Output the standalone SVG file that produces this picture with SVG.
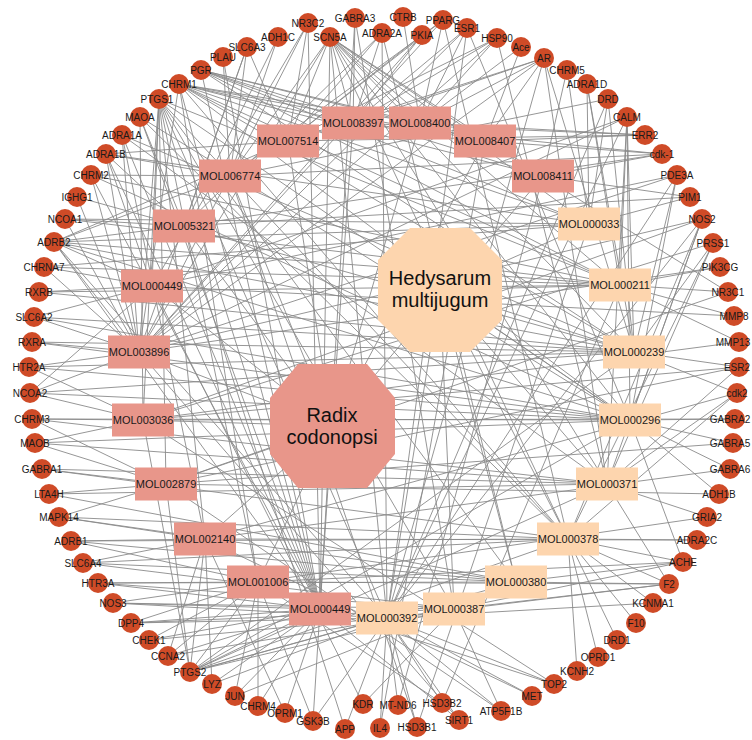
<svg xmlns="http://www.w3.org/2000/svg" width="752" height="740" viewBox="0 0 752 740">
<style>
.e{stroke:#8a8a8a;stroke-width:0.9;fill:none}
.t{fill:#cf4b27}
.tl{font-family:"Liberation Sans",Arial,sans-serif;font-size:10px;fill:#1a1a1a;text-anchor:middle}
.pk{fill:#e8968a}
.pc{fill:#fdd5ae}
.ml{font-family:"Liberation Sans",Arial,sans-serif;font-size:11px;fill:#1a1a1a;text-anchor:middle}
.hl{font-family:"Liberation Sans",Arial,sans-serif;font-size:20px;fill:#111;text-anchor:middle}
</style>
<rect width="752" height="740" fill="#fff"/>
<g id="edges" class="e">
<!-- herb to compound -->
<path d="M332 426L353 123M332 426L420 123M332 426L288 141M332 426L230 176M332 426L184 226M332 426L152 286M332 426L139 352M332 426L143 420M332 426L166 484M332 426L205 539M332 426L258 582M332 426L320 609M332 426L485 141M332 426L543 176"/>
<path d="M440 290L589 224M440 290L620 285M440 290L634 352M440 290L630 420M440 290L607 484M440 290L568 539M440 290L516 582M440 290L454 609M440 290L387 618"/>
<!-- compound to target -->
<path d="M54 242L184 226M54 242L152 286M54 242L139 352M54 242L230 176M54 242L288 141M54 242L320 609M54 242L589 224M54 242L620 285M54 242L387 618M54 242L634 352M54 242L630 420"/>
<path d="M65 219L184 226M65 219L589 224M65 219L139 352M65 219L620 285"/>
<path d="M77 197L139 352M77 197L634 352"/>
<path d="M91 175L230 176M91 175L139 352M91 175L320 609M91 175L620 285M91 175L630 420"/>
<path d="M106 154L230 176M106 154L184 226M106 154L152 286M106 154L139 352M106 154L288 141M106 154L320 609M106 154L589 224"/>
<path d="M122 135L139 352M122 135L205 539M122 135L634 352M122 135L320 609M122 135L607 484"/>
<path d="M140 117L184 226M140 117L143 420M140 117L630 420M140 117L320 609M140 117L568 539"/>
<path d="M159 99L152 286M159 99L139 352M159 99L143 420M159 99L166 484M159 99L205 539M159 99L258 582M159 99L320 609M159 99L387 618M159 99L454 609M159 99L516 582M159 99L568 539M159 99L630 420M159 99L620 285"/>
<path d="M179 84L353 123M179 84L420 123M179 84L288 141M179 84L485 141M179 84L543 176M179 84L589 224M179 84L620 285M179 84L634 352M179 84L139 352M179 84L320 609M179 84L630 420M179 84L568 539M179 84L258 582"/>
<path d="M201 70L353 123M201 70L420 123M201 70L485 141M201 70L543 176M201 70L589 224M201 70L320 609M201 70L620 285M201 70L634 352"/>
<path d="M223 57L230 176M223 57L320 609"/>
<path d="M247 47L230 176M247 47L184 226M247 47L288 141M247 47L139 352"/>
<path d="M278 37L230 176M278 37L184 226"/>
<path d="M308 23L288 141M308 23L139 352M308 23L152 286M308 23L320 609"/>
<path d="M330 37L353 123M330 37L420 123M330 37L288 141M330 37L485 141M330 37L543 176M330 37L589 224M330 37L620 285M330 37L634 352M330 37L230 176M330 37L139 352M330 37L320 609M330 37L387 618M330 37L630 420M330 37L607 484M330 37L568 539"/>
<path d="M355 18L353 123M355 18L320 609M355 18L454 609"/>
<path d="M382 33L353 123M382 33L288 141M382 33L184 226M382 33L387 618M382 33L516 582"/>
<path d="M403 17L420 123"/>
<path d="M422 35L353 123M422 35L288 141M422 35L139 352"/>
<path d="M443 20L420 123M443 20L288 141M443 20L230 176M443 20L139 352M443 20L568 539"/>
<path d="M467 28L353 123M467 28L420 123M467 28L139 352M467 28L387 618M467 28L630 420"/>
<path d="M497 38L420 123M497 38L288 141M497 38L353 123M497 38L139 352M497 38L607 484"/>
<path d="M521 47L485 141M521 47L420 123"/>
<path d="M544 58L420 123M544 58L485 141M544 58L353 123M544 58L288 141M544 58L139 352M544 58L387 618M544 58L634 352M544 58L607 484"/>
<path d="M567 70L543 176M567 70L589 224"/>
<path d="M587 84L589 224M587 84L620 285M587 84L634 352"/>
<path d="M608 99L589 224M608 99L634 352M608 99L387 618M608 99L230 176"/>
<path d="M627 117L620 285M627 117L634 352M627 117L630 420M627 117L607 484M627 117L387 618M627 117L152 286M627 117L139 352"/>
<path d="M645 135L485 141M645 135L420 123M645 135L353 123M645 135L288 141"/>
<path d="M662 154L543 176M662 154L485 141M662 154L353 123M662 154L230 176M662 154L184 226"/>
<path d="M677 175L634 352M677 175L630 420M677 175L387 618M677 175L139 352M677 175L152 286"/>
<path d="M690 197L589 224M690 197L543 176M690 197L184 226"/>
<path d="M702 219L630 420M702 219L607 484M702 219L568 539M702 219L387 618M702 219L139 352M702 219L143 420"/>
<path d="M713 243L634 352M713 243L607 484M713 243L568 539M713 243L143 420"/>
<path d="M720 267L620 285M720 267L139 352"/>
<path d="M728 292L620 285M728 292L485 141M728 292L166 484"/>
<path d="M734 316L620 285M734 316L152 286"/>
<path d="M739 342L620 285M739 342L143 420"/>
<path d="M739 367L634 352M739 367L607 484M739 367L143 420M739 367L166 484"/>
<path d="M737 393L634 352M737 393L607 484M737 393L568 539M737 393L205 539"/>
<path d="M735 419L630 420M735 419L143 420"/>
<path d="M733 443L630 420M733 443L166 484"/>
<path d="M730 469L630 420M730 469L205 539"/>
<path d="M719 494L630 420M719 494L166 484"/>
<path d="M707 517L607 484M707 517L258 582"/>
<path d="M697 540L568 539M697 540L205 539"/>
<path d="M683 562L516 582M683 562L454 609M683 562L630 420M683 562L568 539M683 562L258 582"/>
<path d="M669 584L516 582M669 584L454 609M669 584L568 539M669 584L607 484M669 584L387 618M669 584L258 582"/>
<path d="M653 603L568 539M653 603L387 618"/>
<path d="M636 623L568 539M617 640L568 539M598 657L568 539M577 671L568 539"/>
<path d="M554 684L387 618M554 684L320 609M554 684L143 420"/>
<path d="M532 696L387 618M532 696L205 539"/>
<path d="M501 711L387 618M501 711L454 609M501 711L166 484"/>
<path d="M459 720L387 618M459 720L320 609M459 720L139 352"/>
<path d="M442 703L387 618M442 703L258 582M442 703L620 285"/>
<path d="M417 727L387 618M417 727L589 224M417 727L230 176"/>
<path d="M398 705L387 618M398 705L543 176"/>
<path d="M380 728L387 618M380 728L485 141"/>
<path d="M363 704L454 609M363 704L152 286"/>
<path d="M345 729L387 618M345 729L184 226"/>
<path d="M313 721L258 582M313 721L320 609M313 721L387 618"/>
<path d="M285 713L320 609M285 713L205 539"/>
<path d="M258 706L320 609M258 706L258 582"/>
<path d="M235 696L258 582M235 696L320 609M235 696L454 609"/>
<path d="M212 684L205 539M212 684L387 618M212 684L320 609"/>
<path d="M190 672L166 484M190 672L205 539M190 672L258 582M190 672L320 609M190 672L387 618M190 672L454 609M190 672L516 582M190 672L568 539M190 672L607 484M190 672L630 420M190 672L634 352M190 672L143 420"/>
<path d="M168 656L205 539M168 656L258 582M168 656L454 609M168 656L320 609"/>
<path d="M149 640L258 582M149 640L387 618M149 640L320 609"/>
<path d="M131 623L258 582M131 623L454 609M131 623L387 618M131 623L320 609"/>
<path d="M113 603L258 582M113 603L320 609M113 603L387 618M113 603L454 609"/>
<path d="M98 583L258 582M98 583L516 582M98 583L454 609M98 583L320 609"/>
<path d="M83 563L205 539M83 563L568 539M83 563L516 582M83 563L454 609"/>
<path d="M71 541L205 539M71 541L568 539M71 541L258 582M71 541L516 582"/>
<path d="M59 517L205 539M59 517L166 484M59 517L568 539M59 517L516 582"/>
<path d="M49 494L166 484M49 494L607 484M49 494L516 582"/>
<path d="M42 469L166 484M42 469L607 484M42 469L568 539"/>
<path d="M35 443L143 420M35 443L166 484M35 443L607 484M35 443L630 420"/>
<path d="M32 419L143 420M32 419L630 420M32 419L607 484M32 419L166 484"/>
<path d="M30 393L139 352M30 393L143 420M30 393L634 352M30 393L630 420M30 393L152 286"/>
<path d="M29 367L139 352M29 367L634 352M29 367L630 420M29 367L143 420"/>
<path d="M32 342L139 352M32 342L634 352M32 342L630 420"/>
<path d="M34 317L139 352M34 317L152 286M34 317L634 352M34 317L630 420"/>
<path d="M39 292L152 286M39 292L620 285M39 292L634 352"/>
<path d="M44 267L152 286M44 267L139 352M44 267L620 285M44 267L589 224"/>
</g>

<!-- Radix codonopsi compounds -->
<g id="MOL008397"><rect class="pk" x="322" y="106.5" width="62" height="33"/><text class="ml" x="353" y="127">MOL008397</text></g>
<g id="MOL008400"><rect class="pk" x="389" y="106.5" width="62" height="33"/><text class="ml" x="420" y="127">MOL008400</text></g>
<g id="MOL007514"><rect class="pk" x="257" y="124.5" width="62" height="33"/><text class="ml" x="288" y="145">MOL007514</text></g>
<g id="MOL006774"><rect class="pk" x="199" y="159.5" width="62" height="33"/><text class="ml" x="230" y="180">MOL006774</text></g>
<g id="MOL005321"><rect class="pk" x="153" y="209.5" width="62" height="33"/><text class="ml" x="184" y="230">MOL005321</text></g>
<g id="MOL000449-a"><rect class="pk" x="121" y="269.5" width="62" height="33"/><text class="ml" x="152" y="290">MOL000449</text></g>
<g id="MOL003896"><rect class="pk" x="108" y="335.5" width="62" height="33"/><text class="ml" x="139" y="356">MOL003896</text></g>
<g id="MOL003036"><rect class="pk" x="112" y="403.5" width="62" height="33"/><text class="ml" x="143" y="424">MOL003036</text></g>
<g id="MOL002879"><rect class="pk" x="135" y="467.5" width="62" height="33"/><text class="ml" x="166" y="488">MOL002879</text></g>
<g id="MOL002140"><rect class="pk" x="174" y="522.5" width="62" height="33"/><text class="ml" x="205" y="543">MOL002140</text></g>
<g id="MOL001006"><rect class="pk" x="227" y="565.5" width="62" height="33"/><text class="ml" x="258" y="586">MOL001006</text></g>
<g id="MOL000449-b"><rect class="pk" x="289" y="592.5" width="62" height="33"/><text class="ml" x="320" y="613">MOL000449</text></g>
<g id="MOL008407"><rect class="pk" x="454" y="124.5" width="62" height="33"/><text class="ml" x="485" y="145">MOL008407</text></g>
<g id="MOL008411"><rect class="pk" x="512" y="159.5" width="62" height="33"/><text class="ml" x="543" y="180">MOL008411</text></g>

<!-- Hedysarum multijugum compounds -->
<g id="MOL000033"><rect class="pc" x="558" y="207.5" width="62" height="33"/><text class="ml" x="589" y="228">MOL000033</text></g>
<g id="MOL000211"><rect class="pc" x="589" y="268.5" width="62" height="33"/><text class="ml" x="620" y="289">MOL000211</text></g>
<g id="MOL000239"><rect class="pc" x="603" y="335.5" width="62" height="33"/><text class="ml" x="634" y="356">MOL000239</text></g>
<g id="MOL000296"><rect class="pc" x="599" y="403.5" width="62" height="33"/><text class="ml" x="630" y="424">MOL000296</text></g>
<g id="MOL000371"><rect class="pc" x="576" y="467.5" width="62" height="33"/><text class="ml" x="607" y="488">MOL000371</text></g>
<g id="MOL000378"><rect class="pc" x="537" y="522.5" width="62" height="33"/><text class="ml" x="568" y="543">MOL000378</text></g>
<g id="MOL000380"><rect class="pc" x="485" y="565.5" width="62" height="33"/><text class="ml" x="516" y="586">MOL000380</text></g>
<g id="MOL000387"><rect class="pc" x="423" y="592.5" width="62" height="33"/><text class="ml" x="454" y="613">MOL000387</text></g>
<g id="MOL000392"><rect class="pc" x="356" y="601.5" width="62" height="33"/><text class="ml" x="387" y="622">MOL000392</text></g>

<!-- herbs -->
<g id="radix-codonopsi"><polygon class="pk" points="298,364 367,364 395,398 395,454 367,488 298,488 270,454 270,398"/><text class="hl" x="332" y="422">Radix</text><text class="hl" x="332" y="444">codonopsi</text></g>
<g id="hedysarum-multijugum"><polygon class="pc" points="410,228 470,228 502,260 502,320 470,352 410,352 378,320 378,260"/><text class="hl" x="440" y="285">Hedysarum</text><text class="hl" x="440" y="307">multijugum</text></g>

<!-- targets -->
<g id="ADRB2"><circle class="t" cx="54" cy="242" r="10"/><text class="tl" x="54" y="245.5">ADRB2</text></g>
<g id="NCOA1"><circle class="t" cx="65" cy="219" r="10"/><text class="tl" x="65" y="222.5">NCOA1</text></g>
<g id="IGHG1"><circle class="t" cx="77" cy="197" r="10"/><text class="tl" x="77" y="200.5">IGHG1</text></g>
<g id="CHRM2"><circle class="t" cx="91" cy="175" r="10"/><text class="tl" x="91" y="178.5">CHRM2</text></g>
<g id="ADRA1B"><circle class="t" cx="106" cy="154" r="10"/><text class="tl" x="106" y="157.5">ADRA1B</text></g>
<g id="ADRA1A"><circle class="t" cx="122" cy="135" r="10"/><text class="tl" x="122" y="138.5">ADRA1A</text></g>
<g id="MAOA"><circle class="t" cx="140" cy="117" r="10"/><text class="tl" x="140" y="120.5">MAOA</text></g>
<g id="PTGS1"><circle class="t" cx="159" cy="99" r="10"/><text class="tl" x="157" y="102.5">PTGS1</text></g>
<g id="CHRM1"><circle class="t" cx="179" cy="84" r="10"/><text class="tl" x="179" y="87.5">CHRM1</text></g>
<g id="PGR"><circle class="t" cx="201" cy="70" r="10"/><text class="tl" x="201" y="73.5">PGR</text></g>
<g id="PLAU"><circle class="t" cx="223" cy="57" r="10"/><text class="tl" x="223" y="60.5">PLAU</text></g>
<g id="SLC6A3"><circle class="t" cx="247" cy="47" r="10"/><text class="tl" x="247" y="50.5">SLC6A3</text></g>
<g id="ADH1C"><circle class="t" cx="278" cy="37" r="10"/><text class="tl" x="278" y="40.5">ADH1C</text></g>
<g id="NR3C2"><circle class="t" cx="308" cy="23" r="10"/><text class="tl" x="308" y="26.5">NR3C2</text></g>
<g id="SCN5A"><circle class="t" cx="330" cy="37" r="10"/><text class="tl" x="330" y="40.5">SCN5A</text></g>
<g id="GABRA3"><circle class="t" cx="355" cy="18" r="10"/><text class="tl" x="355" y="21.5">GABRA3</text></g>
<g id="ADRA2A"><circle class="t" cx="382" cy="33" r="10"/><text class="tl" x="382" y="36.5">ADRA2A</text></g>
<g id="CTRB"><circle class="t" cx="403" cy="17" r="10"/><text class="tl" x="403" y="20.5">CTRB</text></g>
<g id="PKIA"><circle class="t" cx="422" cy="35" r="10"/><text class="tl" x="422" y="38.5">PKIA</text></g>
<g id="PPARG"><circle class="t" cx="443" cy="20" r="10"/><text class="tl" x="443" y="23.5">PPARG</text></g>
<g id="ESR1"><circle class="t" cx="467" cy="28" r="10"/><text class="tl" x="467" y="31.5">ESR1</text></g>
<g id="HSP90"><circle class="t" cx="497" cy="38" r="10"/><text class="tl" x="497" y="41.5">HSP90</text></g>
<g id="Ace"><circle class="t" cx="521" cy="47" r="10"/><text class="tl" x="521" y="50.5">Ace</text></g>
<g id="AR"><circle class="t" cx="544" cy="58" r="10"/><text class="tl" x="544" y="61.5">AR</text></g>
<g id="CHRM5"><circle class="t" cx="567" cy="70" r="10"/><text class="tl" x="567" y="73.5">CHRM5</text></g>
<g id="ADRA1D"><circle class="t" cx="587" cy="84" r="10"/><text class="tl" x="587" y="87.5">ADRA1D</text></g>
<g id="DRD"><circle class="t" cx="608" cy="99" r="10"/><text class="tl" x="608" y="102.5">DRD</text></g>
<g id="CALM"><circle class="t" cx="627" cy="117" r="10"/><text class="tl" x="627" y="120.5">CALM</text></g>
<g id="ERR2"><circle class="t" cx="645" cy="135" r="10"/><text class="tl" x="645" y="138.5">ERR2</text></g>
<g id="cdk-1"><circle class="t" cx="662" cy="154" r="10"/><text class="tl" x="662" y="157.5">cdk-1</text></g>
<g id="PDE3A"><circle class="t" cx="677" cy="175" r="10"/><text class="tl" x="677" y="178.5">PDE3A</text></g>
<g id="PIM1"><circle class="t" cx="690" cy="197" r="10"/><text class="tl" x="690" y="200.5">PIM1</text></g>
<g id="NOS2"><circle class="t" cx="702" cy="219" r="10"/><text class="tl" x="702" y="222.5">NOS2</text></g>
<g id="PRSS1"><circle class="t" cx="713" cy="243" r="10"/><text class="tl" x="713" y="246.5">PRSS1</text></g>
<g id="PIK3CG"><circle class="t" cx="720" cy="267" r="10"/><text class="tl" x="720" y="270.5">PIK3CG</text></g>
<g id="NR3C1"><circle class="t" cx="728" cy="292" r="10"/><text class="tl" x="728" y="295.5">NR3C1</text></g>
<g id="MMP8"><circle class="t" cx="734" cy="316" r="10"/><text class="tl" x="734" y="319.5">MMP8</text></g>
<g id="MMP13"><circle class="t" cx="739" cy="342" r="10"/><text class="tl" x="733" y="345.5">MMP13</text></g>
<g id="ESR2"><circle class="t" cx="739" cy="367" r="10"/><text class="tl" x="737" y="370.5">ESR2</text></g>
<g id="cdk2"><circle class="t" cx="737" cy="393" r="10"/><text class="tl" x="737" y="396.5">cdk2</text></g>
<g id="GABRA2"><circle class="t" cx="735" cy="419" r="10"/><text class="tl" x="730" y="422.5">GABRA2</text></g>
<g id="GABRA5"><circle class="t" cx="733" cy="443" r="10"/><text class="tl" x="730" y="446.5">GABRA5</text></g>
<g id="GABRA6"><circle class="t" cx="730" cy="469" r="10"/><text class="tl" x="730" y="472.5">GABRA6</text></g>
<g id="ADH1B"><circle class="t" cx="719" cy="494" r="10"/><text class="tl" x="719" y="497.5">ADH1B</text></g>
<g id="GRIA2"><circle class="t" cx="707" cy="517" r="10"/><text class="tl" x="707" y="520.5">GRIA2</text></g>
<g id="ADRA2C"><circle class="t" cx="697" cy="540" r="10"/><text class="tl" x="697" y="543.5">ADRA2C</text></g>
<g id="ACHE"><circle class="t" cx="683" cy="562" r="10"/><text class="tl" x="683" y="565.5">ACHE</text></g>
<g id="F2"><circle class="t" cx="669" cy="584" r="10"/><text class="tl" x="669" y="587.5">F2</text></g>
<g id="KCNMA1"><circle class="t" cx="653" cy="603" r="10"/><text class="tl" x="653" y="606.5">KCNMA1</text></g>
<g id="F10"><circle class="t" cx="636" cy="623" r="10"/><text class="tl" x="636" y="626.5">F10</text></g>
<g id="DRD1"><circle class="t" cx="617" cy="640" r="10"/><text class="tl" x="617" y="643.5">DRD1</text></g>
<g id="OPRD1"><circle class="t" cx="598" cy="657" r="10"/><text class="tl" x="598" y="660.5">OPRD1</text></g>
<g id="KCNH2"><circle class="t" cx="577" cy="671" r="10"/><text class="tl" x="577" y="674.5">KCNH2</text></g>
<g id="TOP2"><circle class="t" cx="554" cy="684" r="10"/><text class="tl" x="554" y="687.5">TOP2</text></g>
<g id="MET"><circle class="t" cx="532" cy="696" r="10"/><text class="tl" x="532" y="699.5">MET</text></g>
<g id="ATP5F1B"><circle class="t" cx="501" cy="711" r="10"/><text class="tl" x="501" y="714.5">ATP5F1B</text></g>
<g id="SIRT1"><circle class="t" cx="459" cy="720" r="10"/><text class="tl" x="459" y="723.5">SIRT1</text></g>
<g id="HSD3B2"><circle class="t" cx="442" cy="703" r="10"/><text class="tl" x="442" y="706.5">HSD3B2</text></g>
<g id="HSD3B1"><circle class="t" cx="417" cy="727" r="10"/><text class="tl" x="417" y="730.5">HSD3B1</text></g>
<g id="MT-ND6"><circle class="t" cx="398" cy="705" r="10"/><text class="tl" x="398" y="708.5">MT-ND6</text></g>
<g id="IL4"><circle class="t" cx="380" cy="728" r="10"/><text class="tl" x="380" y="731.5">IL4</text></g>
<g id="KDR"><circle class="t" cx="363" cy="704" r="10"/><text class="tl" x="363" y="707.5">KDR</text></g>
<g id="APP"><circle class="t" cx="345" cy="729" r="10"/><text class="tl" x="345" y="732.5">APP</text></g>
<g id="GSK3B"><circle class="t" cx="313" cy="721" r="10"/><text class="tl" x="313" y="724.5">GSK3B</text></g>
<g id="OPRM1"><circle class="t" cx="285" cy="713" r="10"/><text class="tl" x="285" y="716.5">OPRM1</text></g>
<g id="CHRM4"><circle class="t" cx="258" cy="706" r="10"/><text class="tl" x="258" y="709.5">CHRM4</text></g>
<g id="JUN"><circle class="t" cx="235" cy="696" r="10"/><text class="tl" x="235" y="699.5">JUN</text></g>
<g id="LYZ"><circle class="t" cx="212" cy="684" r="10"/><text class="tl" x="212" y="687.5">LYZ</text></g>
<g id="PTGS2"><circle class="t" cx="190" cy="672" r="10"/><text class="tl" x="190" y="675.5">PTGS2</text></g>
<g id="CCNA2"><circle class="t" cx="168" cy="656" r="10"/><text class="tl" x="168" y="659.5">CCNA2</text></g>
<g id="CHEK1"><circle class="t" cx="149" cy="640" r="10"/><text class="tl" x="149" y="643.5">CHEK1</text></g>
<g id="DPP4"><circle class="t" cx="131" cy="623" r="10"/><text class="tl" x="131" y="626.5">DPP4</text></g>
<g id="NOS3"><circle class="t" cx="113" cy="603" r="10"/><text class="tl" x="113" y="606.5">NOS3</text></g>
<g id="HTR3A"><circle class="t" cx="98" cy="583" r="10"/><text class="tl" x="98" y="586.5">HTR3A</text></g>
<g id="SLC6A4"><circle class="t" cx="83" cy="563" r="10"/><text class="tl" x="83" y="566.5">SLC6A4</text></g>
<g id="ADRB1"><circle class="t" cx="71" cy="541" r="10"/><text class="tl" x="71" y="544.5">ADRB1</text></g>
<g id="MAPK14"><circle class="t" cx="59" cy="517" r="10"/><text class="tl" x="59" y="520.5">MAPK14</text></g>
<g id="LTA4H"><circle class="t" cx="49" cy="494" r="10"/><text class="tl" x="49" y="497.5">LTA4H</text></g>
<g id="GABRA1"><circle class="t" cx="42" cy="469" r="10"/><text class="tl" x="42" y="472.5">GABRA1</text></g>
<g id="MAOB"><circle class="t" cx="35" cy="443" r="10"/><text class="tl" x="35" y="446.5">MAOB</text></g>
<g id="CHRM3"><circle class="t" cx="32" cy="419" r="10"/><text class="tl" x="32" y="422.5">CHRM3</text></g>
<g id="NCOA2"><circle class="t" cx="30" cy="393" r="10"/><text class="tl" x="30" y="396.5">NCOA2</text></g>
<g id="HTR2A"><circle class="t" cx="29" cy="367" r="10"/><text class="tl" x="29" y="370.5">HTR2A</text></g>
<g id="RXRA"><circle class="t" cx="32" cy="342" r="10"/><text class="tl" x="32" y="345.5">RXRA</text></g>
<g id="SLC6A2"><circle class="t" cx="34" cy="317" r="10"/><text class="tl" x="34" y="320.5">SLC6A2</text></g>
<g id="RXRB"><circle class="t" cx="39" cy="292" r="10"/><text class="tl" x="39" y="295.5">RXRB</text></g>
<g id="CHRNA7"><circle class="t" cx="44" cy="267" r="10"/><text class="tl" x="44" y="270.5">CHRNA7</text></g>
</svg>
